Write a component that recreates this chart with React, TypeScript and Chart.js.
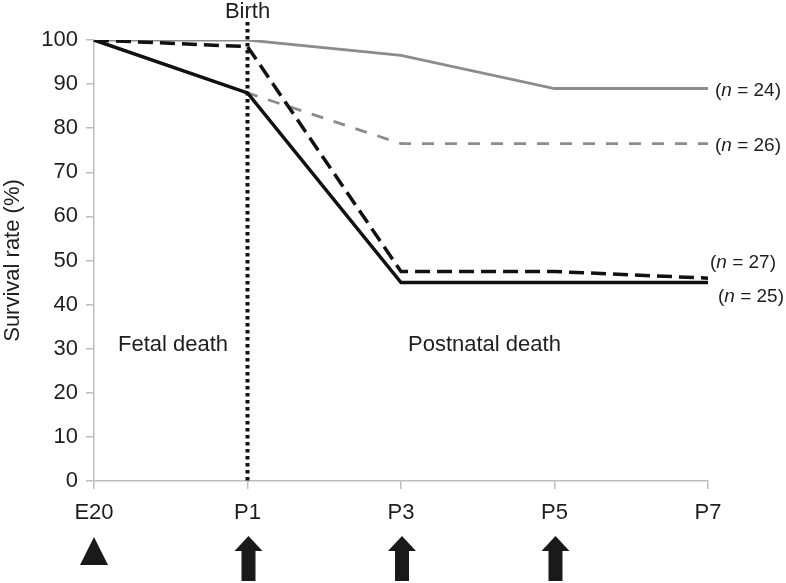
import React, { useEffect, useRef } from "react";
import { Chart, registerables } from "chart.js";

Chart.register(...registerables);

const categories = ["E20", "P1", "P3", "P5", "P7"];
const graySolid = [100, 100, 96.5, 89, 89];
const grayDashed = [100, 88, 76.5, 76.5, 76.5];
const blackDashed = [100, 98.5, 47.5, 47.5, 46];
const blackSolid = [100, 88, 45, 45, 45];
const groupSizes = ["25", "27", "26", "24"]; // matches dataset order below
const birthCategory = "P1";
const triangleCategory = "E20";
const arrowCategories = ["P1", "P3", "P5"];
const phaseLabels = ["Fetal death", "Postnatal death"];
const yTitle = "Survival rate (%)";
const birthLabel = "Birth";

const FONT = "'Liberation Sans', Arial, Helvetica, sans-serif";
const TEXT = "#1e1e1e";

export default function App() {
  const ref = useRef<HTMLCanvasElement>(null);

  useEffect(() => {
    const canvas = ref.current!;

    const overlay = {
      id: "overlay",
      afterDatasetsDraw(chart: any) {
        const ctx = chart.ctx as CanvasRenderingContext2D;
        const xs = chart.scales.x;
        const area = chart.chartArea;
        const bx = xs.getPixelForValue(categories.indexOf(birthCategory));
        ctx.save();
        ctx.strokeStyle = "#111";
        ctx.lineWidth = 4;
        ctx.setLineDash([3.5, 3.5]);
        ctx.beginPath();
        ctx.moveTo(bx, 22);
        ctx.lineTo(bx, area.bottom);
        ctx.stroke();
        ctx.restore();
      },
      afterDraw(chart: any) {
        const ctx = chart.ctx as CanvasRenderingContext2D;
        const xs = chart.scales.x;
        const ys = chart.scales.y;
        const area = chart.chartArea;
        ctx.save();
        ctx.fillStyle = TEXT;
        ctx.textBaseline = "alphabetic";

        // Birth
        const bx = xs.getPixelForValue(categories.indexOf(birthCategory));
        ctx.font = `22px ${FONT}`;
        ctx.textAlign = "center";
        ctx.fillText(birthLabel, bx, 18);

        // phase labels
        ctx.textAlign = "left";
        const yPhase = ys.getPixelForValue(29.5);
        ctx.fillText(phaseLabels[0], xs.getPixelForValue(0) + 24, yPhase);
        ctx.fillText(phaseLabels[1], xs.getPixelForValue(2) + 7, yPhase);

        // n labels
        const last = categories.length - 1;
        const xLast = xs.getPixelForValue(last);
        const offsets = [
          { dx: 10, dy: 12 },
          { dx: 2, dy: -17 },
          { dx: 7, dy: 0 },
          { dx: 7, dy: 0 },
        ];
        chart.data.datasets.forEach((ds: any, i: number) => {
          const v = ds.data[last];
          const y = ys.getPixelForValue(v) + offsets[i].dy + 7;
          let x = xLast + offsets[i].dx;
          const parts: [string, string][] = [
            ["(", "normal"],
            ["n", "italic"],
            [" = " + groupSizes[i] + ")", "normal"],
          ];
          parts.forEach(([t, st]) => {
            ctx.font = `${st} 19px ${FONT}`;
            ctx.fillText(t, x, y);
            x += ctx.measureText(t).width;
          });
        });

        // y title
        ctx.save();
        ctx.font = `22px ${FONT}`;
        ctx.textAlign = "center";
        ctx.translate(19, (area.top + area.bottom) / 2);
        ctx.rotate(-Math.PI / 2);
        ctx.fillText(yTitle, 0, 0);
        ctx.restore();

        // triangle
        ctx.fillStyle = "#1a1a1a";
        const tx = xs.getPixelForValue(categories.indexOf(triangleCategory));
        ctx.beginPath();
        ctx.moveTo(tx, 537);
        ctx.lineTo(tx + 14, 565);
        ctx.lineTo(tx - 14, 565);
        ctx.closePath();
        ctx.fill();

        // arrows
        arrowCategories.forEach((c) => {
          const ax = xs.getPixelForValue(categories.indexOf(c)) + 1;
          ctx.beginPath();
          ctx.moveTo(ax, 536);
          ctx.lineTo(ax + 14, 551);
          ctx.lineTo(ax + 7, 551);
          ctx.lineTo(ax + 7, 581);
          ctx.lineTo(ax - 7, 581);
          ctx.lineTo(ax - 7, 551);
          ctx.lineTo(ax - 14, 551);
          ctx.closePath();
          ctx.fill();
        });
        ctx.restore();
      },
    };

    const lineBase = {
      pointRadius: 0,
      tension: 0,
      fill: false,
      borderCapStyle: "butt",
      borderJoinStyle: "miter",
    };

    const chart = new Chart(canvas, {
      type: "line",
      data: {
        labels: categories,
        datasets: [
          { ...lineBase, label: "n=25", data: blackSolid, borderColor: "#111", borderWidth: 3.5 },
          { ...lineBase, label: "n=27", data: blackDashed, borderColor: "#111", borderWidth: 3.5, borderDash: [15, 7] },
          { ...lineBase, label: "n=26", data: grayDashed, borderColor: "#8c8c8c", borderWidth: 2.8, borderDash: [12, 11] },
          { ...lineBase, label: "n=24", data: graySolid, borderColor: "#8c8c8c", borderWidth: 2.8 },
        ] as any,
      },
      options: {
        animation: false,
        responsive: true,
        maintainAspectRatio: false,
        layout: { padding: { top: 40, right: 78, left: 0, bottom: 0 } },
        plugins: { legend: { display: false }, tooltip: { enabled: false } },
        scales: {
          x: {
            type: "category",
            offset: false,
            grid: { drawOnChartArea: false, drawTicks: true, tickLength: 8, color: "#bdbdbd", lineWidth: 1.5 },
            border: { color: "#bdbdbd", width: 1.5 },
            ticks: { color: TEXT, font: { family: FONT, size: 22 }, padding: 11, maxRotation: 0, autoSkip: false },
            afterFit: (s: any) => { s.height = 102; },
          },
          y: {
            min: 0,
            max: 100,
            grid: { drawOnChartArea: false, drawTicks: true, tickLength: 8, color: "#bdbdbd", lineWidth: 1.5 },
            border: { color: "#bdbdbd", width: 1.5 },
            ticks: { stepSize: 10, color: TEXT, font: { family: FONT, size: 22 }, padding: 8 },
            afterFit: (s: any) => { s.width = 94; },
          },
        },
      } as any,
      plugins: [overlay],
    });
    return () => chart.destroy();
  }, []);

  return (
    <div style={{ position: "absolute", left: 0, top: 0, width: 786, height: 583, background: "#fff" }}>
      <canvas ref={ref} />
    </div>
  );
}
